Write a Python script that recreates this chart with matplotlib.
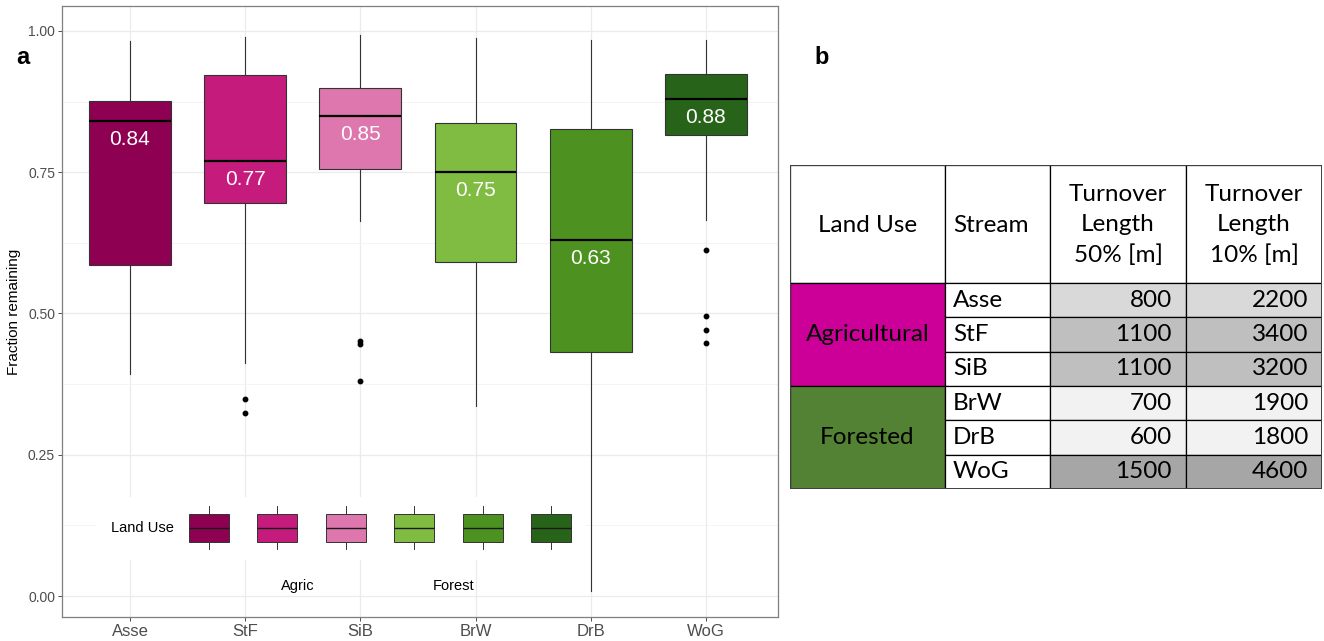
import matplotlib
matplotlib.use("Agg")
import matplotlib.pyplot as plt
from matplotlib.patches import Rectangle

# ---------------- data ----------------
streams = ["Asse", "StF", "SiB", "BrW", "DrB", "WoG"]
whisker_low = [0.393, 0.412, 0.664, 0.336, 0.009, 0.665]
quartile1 = [0.586, 0.696, 0.756, 0.591, 0.432, 0.816]
medians = [0.84, 0.77, 0.85, 0.75, 0.63, 0.88]
quartile3 = [0.876, 0.922, 0.899, 0.837, 0.827, 0.924]
whisker_high = [0.982, 0.989, 0.993, 0.988, 0.984, 0.984]
outliers = [[], [0.349, 0.324], [0.451, 0.446, 0.380], [], [],
            [0.612, 0.496, 0.471, 0.448]]
box_colors = ["#8E0152", "#C51B7D", "#DE77AE", "#7FBC41", "#4D9221", "#276419"]
y_ticks = [0.0, 0.25, 0.50, 0.75, 1.00]
y_minor = [0.125, 0.375, 0.625, 0.875]

land_use = ["Agricultural", "Forested"]
land_use_rows = [3, 3]
land_use_colors = ["#CC0099", "#548235"]
turnover_50 = [800, 1100, 1100, 700, 600, 1500]
turnover_10 = [2200, 3400, 3200, 1900, 1800, 4600]
turnover_shades = ["#D9D9D9", "#BFBFBF", "#BFBFBF", "#F2F2F2", "#F2F2F2", "#A6A6A6"]
table_header = ["Land Use", "Stream", "Turnover\nLength\n50% [m]", "Turnover\nLength\n10% [m]"]

# ---------------- figure ----------------
W, H = 1324, 641
fig = plt.figure(figsize=(W / 100, H / 100), dpi=100)
fig.patch.set_facecolor("white")


def frame(x0, y0, x1, y1):
    """Pixel box (top-left origin) -> figure fraction rectangle."""
    return [x0 / W, 1 - y1 / H, (x1 - x0) / W, (y1 - y0) / H]


SANS = "Liberation Sans"

# ---------------- panel a: boxplots ----------------
ax = fig.add_axes(frame(62, 6, 778, 617))
positions = list(range(1, len(streams) + 1))
stats = []
for i, s in enumerate(streams):
    stats.append(dict(label=s, med=medians[i], q1=quartile1[i], q3=quartile3[i],
                      whislo=whisker_low[i], whishi=whisker_high[i],
                      fliers=outliers[i]))

bp = ax.bxp(stats, positions=positions, widths=0.71, patch_artist=True,
            showcaps=False,
            boxprops=dict(edgecolor="#333333", linewidth=0.8),
            medianprops=dict(color="black", linewidth=1.6),
            whiskerprops=dict(color="#333333", linewidth=0.8),
            flierprops=dict(marker="o", markerfacecolor="black",
                            markeredgecolor="black", markersize=3.2))
for patch, c in zip(bp["boxes"], box_colors):
    patch.set_facecolor(c)
for el in bp["boxes"] + bp["medians"] + bp["whiskers"] + bp["fliers"]:
    el.set_zorder(3)

for p, m in zip(positions, medians):
    ax.annotate(f"{m:.2f}", (p, m), xytext=(0, -6.5), textcoords="offset points",
                ha="center", va="top", color="white", fontsize=15,
                family=SANS, zorder=4)

ax.set_xlim(0.41, 6.625)
ax.set_ylim(-0.037, 1.044)
ax.set_yticks(y_ticks)
ax.set_yticklabels([f"{v:.2f}" for v in y_ticks])
ax.set_yticks(y_minor, minor=True)
ax.set_xticks(positions)
ax.set_xticklabels(streams)
ax.tick_params(axis="y", which="major", labelsize=10, colors="#333333",
               labelcolor="#4D4D4D", length=3, width=0.6, pad=2)
ax.tick_params(axis="x", which="major", labelsize=12, colors="#333333",
               labelcolor="#4D4D4D", length=3, width=0.6, pad=2)
ax.tick_params(axis="y", which="minor", length=0)
for lab in ax.get_xticklabels() + ax.get_yticklabels():
    lab.set_family(SANS)
ax.grid(True, which="major", color="#EBEBEB", linewidth=0.9, zorder=0)
ax.grid(True, which="minor", axis="y", color="#F2F2F2", linewidth=0.6, zorder=0)
ax.set_axisbelow(True)
for sp in ax.spines.values():
    sp.set_color("#7F7F7F")
    sp.set_linewidth(0.9)
ax.set_ylabel("Fraction remaining", fontsize=11, family=SANS, labelpad=5)

# legend drawn as its own small panel of box glyphs
lax = fig.add_axes(frame(97, 497, 585, 560))
lax.set_facecolor("white")
key_glyph = dict(whislo=0.175, q1=0.286, med=0.508, q3=0.730, whishi=0.857, fliers=[])
kb = lax.bxp([dict(key_glyph, label="") for _ in streams], positions=positions,
             widths=0.585, patch_artist=True, showcaps=False, showfliers=False,
             boxprops=dict(edgecolor="#333333", linewidth=0.7),
             medianprops=dict(color="#1a1a1a", linewidth=1.0),
             whiskerprops=dict(color="#333333", linewidth=0.7))
for patch, c in zip(kb["boxes"], box_colors):
    patch.set_facecolor(c)
lax.set_xlim(-0.637, 6.497)
lax.set_ylim(0, 1)
lax.set_xticks([])
lax.set_yticks([])
for sp in lax.spines.values():
    sp.set_visible(False)

fig.text(111 / W, 1 - 528 / H, "Land Use", ha="left", va="center",
         fontsize=10.5, family=SANS)
fig.text(298 / W, 1 - 586 / H, "Agric", ha="center", va="center",
         fontsize=10.5, family=SANS)
fig.text(454 / W, 1 - 586 / H, "Forest", ha="center", va="center",
         fontsize=10.5, family=SANS)

fig.text(23 / W, 1 - 57 / H, "a", ha="center", va="center",
         fontsize=17, fontweight="bold", family=SANS)
fig.text(822 / W, 1 - 57 / H, "b", ha="center", va="center",
         fontsize=17, fontweight="bold", family=SANS)

# ---------------- panel b: turnover table ----------------
col_w = [155, 105, 136, 136]
header_h = 118
row_h = (489 - 165 - header_h) / len(streams)
tw, th = sum(col_w), header_h + row_h * len(streams)
tax = fig.add_axes(frame(790, 165, 790 + tw, 165 + th))
tax.set_xlim(0, tw)
tax.set_ylim(th, 0)
tax.axis("off")

col_x = [sum(col_w[:k]) for k in range(len(col_w) + 1)]
TFONT = "Lato"
tfs = 17.5

# header
for k, txt in enumerate(table_header):
    tax.add_patch(Rectangle((col_x[k], 0), col_w[k], header_h, facecolor="white",
                            edgecolor="black", linewidth=0.9))
    if k == 1:
        tax.text(col_x[k] + 8, header_h / 2 + 1, txt, ha="left", va="center",
                 fontsize=tfs, family=TFONT)
    else:
        tax.text(col_x[k] + col_w[k] / 2, header_h / 2 + 1, txt, ha="center",
                 va="center", fontsize=tfs, family=TFONT, linespacing=1.55)

# land-use group cells
r0 = 0
for name, n, c in zip(land_use, land_use_rows, land_use_colors):
    y0 = header_h + r0 * row_h
    tax.add_patch(Rectangle((0, y0), col_w[0], n * row_h, facecolor=c,
                            edgecolor="black", linewidth=0.9))
    tax.text(col_w[0] / 2, y0 + n * row_h / 2, name, ha="center", va="center",
             fontsize=tfs, family=TFONT)
    r0 += n

# stream rows
for i, s in enumerate(streams):
    y0 = header_h + i * row_h
    tax.add_patch(Rectangle((col_x[1], y0), col_w[1], row_h, facecolor="white",
                            edgecolor="black", linewidth=0.9))
    tax.text(col_x[1] + 8, y0 + row_h / 2, s, ha="left", va="center",
             fontsize=tfs, family=TFONT)
    for k, vals in ((2, turnover_50), (3, turnover_10)):
        tax.add_patch(Rectangle((col_x[k], y0), col_w[k], row_h,
                                facecolor=turnover_shades[i], edgecolor="black",
                                linewidth=0.9))
        tax.text(col_x[k + 1] - 14, y0 + row_h / 2, f"{vals[i]}", ha="right",
                 va="center", fontsize=tfs, family=TFONT)

tax.add_patch(Rectangle((0, 0), tw, th, facecolor="none", edgecolor="#404040",
                        linewidth=1.4))

fig.savefig("out.png", dpi=100, facecolor="white")
